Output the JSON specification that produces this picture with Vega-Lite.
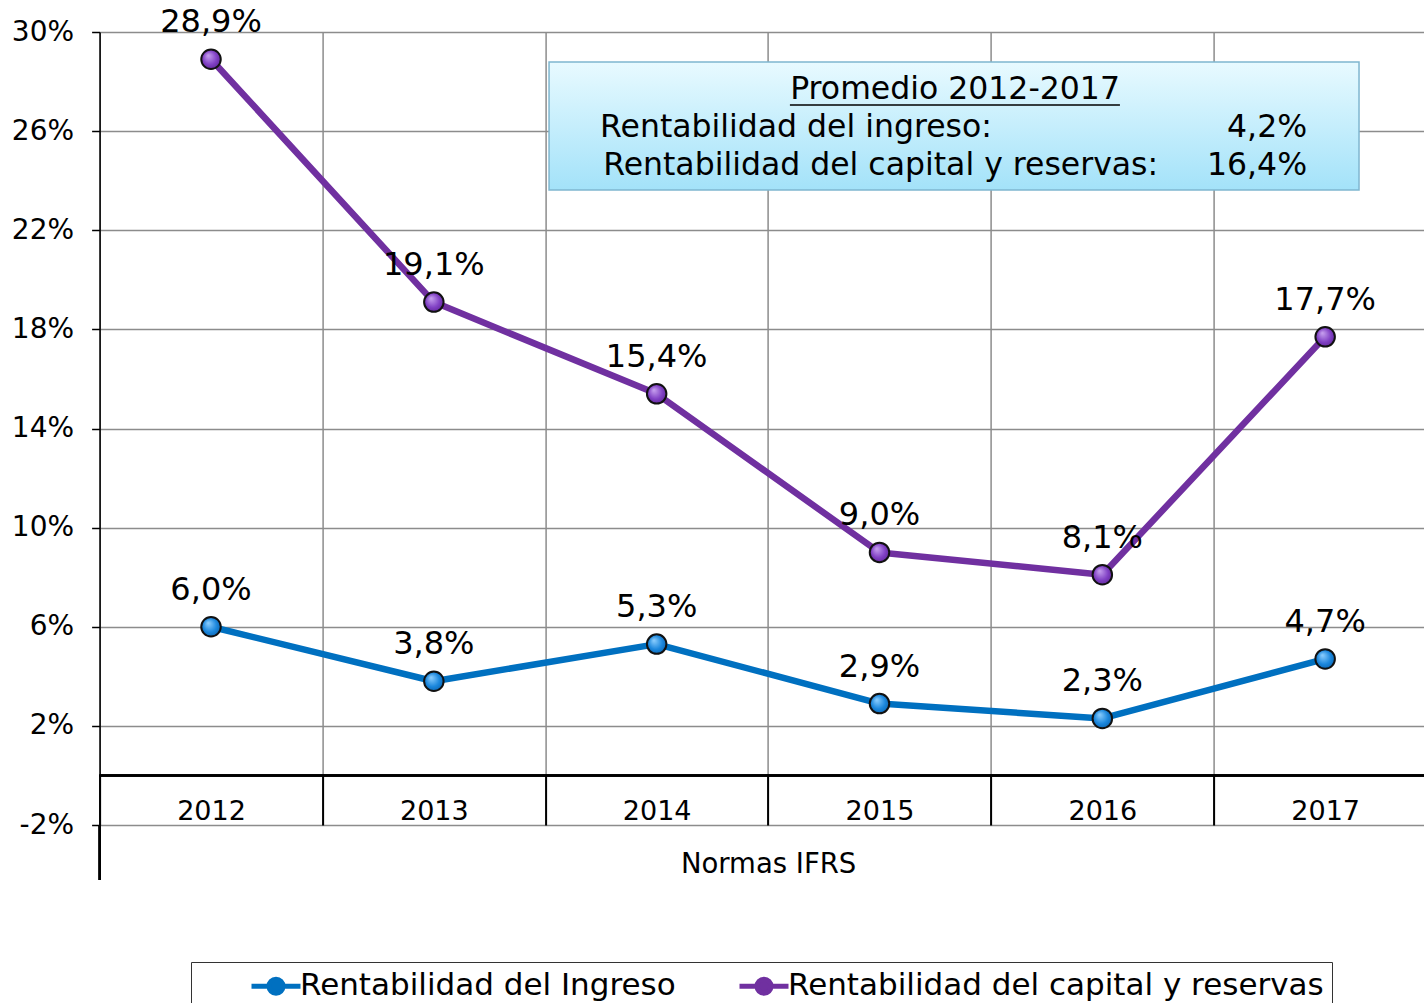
{
  "$schema": "https://vega.github.io/schema/vega-lite/v6.json",
  "width": 1324.4,
  "height": 793,
  "autosize": {"type": "none"},
  "padding": {"left": 99.6, "top": 32, "right": 0, "bottom": 178},
  "background": "white",
  "config": {
    "locale": {"number": {"decimal": ",", "thousands": ".", "grouping": [3], "currency": ["", " €"], "minus": "-"}},
    "view": {"stroke": null},
    "font": "DejaVu Sans"
  },
  "data": {"values": [
    {"year": 2012, "serie": "Rentabilidad del Ingreso", "value": 0.060},
    {"year": 2013, "serie": "Rentabilidad del Ingreso", "value": 0.038},
    {"year": 2014, "serie": "Rentabilidad del Ingreso", "value": 0.053},
    {"year": 2015, "serie": "Rentabilidad del Ingreso", "value": 0.029},
    {"year": 2016, "serie": "Rentabilidad del Ingreso", "value": 0.023},
    {"year": 2017, "serie": "Rentabilidad del Ingreso", "value": 0.047},
    {"year": 2012, "serie": "Rentabilidad del capital y reservas", "value": 0.289},
    {"year": 2013, "serie": "Rentabilidad del capital y reservas", "value": 0.191},
    {"year": 2014, "serie": "Rentabilidad del capital y reservas", "value": 0.154},
    {"year": 2015, "serie": "Rentabilidad del capital y reservas", "value": 0.090},
    {"year": 2016, "serie": "Rentabilidad del capital y reservas", "value": 0.081},
    {"year": 2017, "serie": "Rentabilidad del capital y reservas", "value": 0.177}
  ]},
  "layer": [
    {
      "mark": {"type": "line", "strokeWidth": 6.5, "strokeJoin": "round", "strokeCap": "round"},
      "encoding": {
        "x": {"field": "year", "type": "quantitative", "title": "Normas IFRS",
          "scale": {"domain": [2011.5, 2017.4436], "nice": false, "zero": false},
          "axis": {"values": [2011.5, 2012.5, 2013.5, 2014.5, 2015.5, 2016.5],
            "grid": true, "gridColor": "#8c8c8c", "gridWidth": 1.5,
            "domain": false, "ticks": true, "tickSize": -50, "tickColor": "black", "tickWidth": 2,
            "labelExpr": "format(datum.value + 0.5, 'd')", "labelOffset": 111.4, "labelPadding": 36,
            "labelBaseline": "middle", "labelFlush": false, "labelOverlap": false, "labelBound": false,
            "labelFont": "DejaVu Sans", "labelFontSize": 27, "labelColor": "black",
            "titleFont": "DejaVu Sans", "titleFontSize": 27.5, "titleFontWeight": "normal", "titleColor": "black",
            "titleX": 668.5, "titleY": 39, "titleAlign": "center", "titleBaseline": "middle"}},
        "y": {"field": "value", "type": "quantitative", "title": null,
          "scale": {"domain": [-0.02, 0.30], "nice": false, "zero": false},
          "axis": {"values": [-0.02, 0.02, 0.06, 0.10, 0.14, 0.18, 0.22, 0.26, 0.30], "format": ".0%",
            "grid": true, "gridColor": "#8c8c8c", "gridWidth": 1.5,
            "domain": true, "domainColor": "black", "domainWidth": 1.5,
            "ticks": true, "tickSize": 8, "tickColor": "black", "tickWidth": 1.5,
            "labelPadding": 18, "labelFont": "DejaVu Sans", "labelFontSize": 28, "labelColor": "black"}},
        "color": {"field": "serie", "type": "nominal",
          "scale": {"domain": ["Rentabilidad del Ingreso", "Rentabilidad del capital y reservas"], "range": ["#0070C0", "#7030A0"]},
          "legend": {"orient": "none", "legendX": 91.4, "legendY": 930, "direction": "horizontal", "title": null,
            "symbolType": "M-1.75,0L-0.5,0M0.5,0L1.75,0M-0.5,0A0.5,0.5,0,1,0,0.5,0A0.5,0.5,0,1,0,-0.5,0Z",
            "symbolSize": 784, "symbolStrokeWidth": 5, "symbolOffset": 61,
            "labelFont": "DejaVu Sans", "labelFontSize": 31, "labelColor": "black", "labelLimit": 900, "labelOffset": 7.5,
            "columnPadding": 10, "padding": 7.5, "strokeColor": "#333333", "fillColor": "white",
            "encode": {"symbols": {"update": {"fill": {"scale": "color", "field": "value"}, "opacity": {"value": 1}}}}}}
      }
    },
    {
      "mark": {"type": "rule", "color": "black", "strokeWidth": 1.5},
      "encoding": {"y": {"datum": 0, "type": "quantitative", "title": null}}
    },
    {
      "mark": {"type": "rule", "color": "black", "strokeWidth": 1.5, "clip": false},
      "encoding": {
        "x": {"datum": 2011.5, "type": "quantitative", "title": "Normas IFRS"},
        "y": {"datum": -0.02, "type": "quantitative", "title": null},
        "y2": {"datum": -0.0422}
      }
    },
    {
      "data": {"values": [{"box": "Promedio"}]},
      "mark": {"type": "rect", "stroke": "#7fb6cf", "strokeWidth": 1.5,
        "fill": {"gradient": "linear", "x1": 0, "y1": 0, "x2": 0, "y2": 1,
          "stops": [{"offset": 0, "color": "#e8faff"}, {"offset": 1, "color": "#a3e2f9"}]}},
      "encoding": {
        "x": {"datum": 2013.517, "type": "quantitative", "title": "Normas IFRS"},
        "x2": {"datum": 2017.152},
        "y": {"datum": 0.2879, "type": "quantitative", "title": null},
        "y2": {"datum": 0.2362}
      }
    },
    {
      "data": {"values": [{"t": "Promedio 2012-2017"}]},
      "mark": {"type": "text", "fontSize": 31.5, "font": "DejaVu Sans", "color": "black", "align": "center", "baseline": "middle"},
      "encoding": {
        "x": {"datum": 2015.339, "type": "quantitative", "title": "Normas IFRS"},
        "y": {"datum": 0.2766, "type": "quantitative", "title": null},
        "text": {"field": "t"}
      }
    },
    {
      "data": {"values": [{"t": "underline"}]},
      "mark": {"type": "rule", "color": "black", "strokeWidth": 1.5},
      "encoding": {
        "x": {"datum": 2014.598, "type": "quantitative", "title": "Normas IFRS"},
        "x2": {"datum": 2016.079},
        "y": {"datum": 0.2705, "type": "quantitative", "title": null}
      }
    },
    {
      "data": {"values": [{"t": "Rentabilidad del ingreso:"}]},
      "mark": {"type": "text", "fontSize": 31.5, "font": "DejaVu Sans", "color": "black", "align": "left", "baseline": "middle"},
      "encoding": {
        "x": {"datum": 2013.746, "type": "quantitative", "title": "Normas IFRS"},
        "y": {"datum": 0.2613, "type": "quantitative", "title": null},
        "text": {"field": "t"}
      }
    },
    {
      "data": {"values": [{"avg": 0.042}]},
      "mark": {"type": "text", "fontSize": 31.5, "font": "DejaVu Sans", "color": "black", "align": "right", "baseline": "middle"},
      "encoding": {
        "x": {"datum": 2016.919, "type": "quantitative", "title": "Normas IFRS"},
        "y": {"datum": 0.2613, "type": "quantitative", "title": null},
        "text": {"field": "avg", "format": ".1%"}
      }
    },
    {
      "data": {"values": [{"t": "Rentabilidad del capital y reservas:"}]},
      "mark": {"type": "text", "fontSize": 31.5, "font": "DejaVu Sans", "color": "black", "align": "left", "baseline": "middle"},
      "encoding": {
        "x": {"datum": 2013.76, "type": "quantitative", "title": "Normas IFRS"},
        "y": {"datum": 0.2459, "type": "quantitative", "title": null},
        "text": {"field": "t"}
      }
    },
    {
      "data": {"values": [{"avg": 0.164}]},
      "mark": {"type": "text", "fontSize": 31.5, "font": "DejaVu Sans", "color": "black", "align": "right", "baseline": "middle"},
      "encoding": {
        "x": {"datum": 2016.919, "type": "quantitative", "title": "Normas IFRS"},
        "y": {"datum": 0.2459, "type": "quantitative", "title": null},
        "text": {"field": "avg", "format": ".1%"}
      }
    },
    {
      "transform": [{"filter": "datum.serie === 'Rentabilidad del Ingreso'"}],
      "mark": {"type": "point", "shape": "circle", "filled": true, "size": 380, "opacity": 1, "stroke": "#111111", "strokeWidth": 2,
        "fill": {"gradient": "radial", "x1": 0.35, "y1": 0.3, "r1": 0, "x2": 0.5, "y2": 0.5, "r2": 0.6,
          "stops": [{"offset": 0, "color": "#8fd0ff"}, {"offset": 0.6, "color": "#1a86dc"}, {"offset": 1, "color": "#0a5fa8"}]}},
      "encoding": {
        "x": {"field": "year", "type": "quantitative", "title": "Normas IFRS"},
        "y": {"field": "value", "type": "quantitative", "title": null}
      }
    },
    {
      "transform": [{"filter": "datum.serie === 'Rentabilidad del capital y reservas'"}],
      "mark": {"type": "point", "shape": "circle", "filled": true, "size": 380, "opacity": 1, "stroke": "#111111", "strokeWidth": 2,
        "fill": {"gradient": "radial", "x1": 0.35, "y1": 0.3, "r1": 0, "x2": 0.5, "y2": 0.5, "r2": 0.6,
          "stops": [{"offset": 0, "color": "#c9a3f0"}, {"offset": 0.6, "color": "#8040c4"}, {"offset": 1, "color": "#5a2290"}]}},
      "encoding": {
        "x": {"field": "year", "type": "quantitative", "title": "Normas IFRS"},
        "y": {"field": "value", "type": "quantitative", "title": null}
      }
    },
    {
      "mark": {"type": "text", "dy": -37, "fontSize": 32, "font": "DejaVu Sans", "color": "black", "align": "center", "baseline": "middle"},
      "encoding": {
        "x": {"field": "year", "type": "quantitative", "title": "Normas IFRS"},
        "y": {"field": "value", "type": "quantitative", "title": null},
        "text": {"field": "value", "format": ".1%"}
      }
    }
  ]
}
